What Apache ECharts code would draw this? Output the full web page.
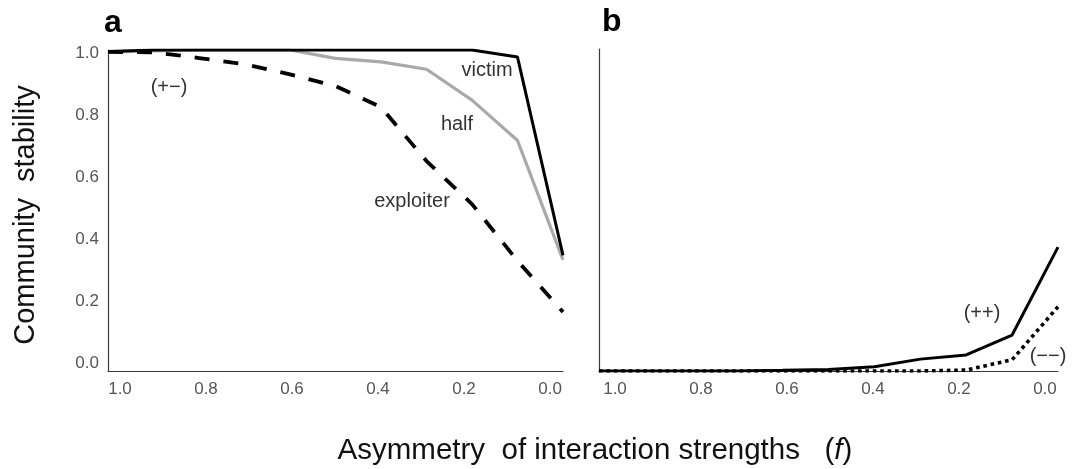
<!DOCTYPE html>
<html>
<head>
<meta charset="utf-8">
<script src="https://cdn.jsdelivr.net/npm/echarts@6/dist/echarts.min.js"></script>
<style>html,body{margin:0;padding:0;background:#fff}#c{width:1077px;height:469px}</style>
</head>
<body>
<div id="c"></div>
<script>
// Asymmetry of interaction strengths (f)
var fValues = [1.0, 0.9, 0.8, 0.7, 0.6, 0.5, 0.4, 0.3, 0.2, 0.1, 0.0];
// Panel a (+-)
var victim    = [0.995, 1.0, 1.0, 1.0, 1.0, 1.0, 1.0, 1.0, 1.0, 0.978, 0.36];
var half      = [0.993, 0.997, 1.0, 1.0, 1.0, 0.974, 0.963, 0.94, 0.844, 0.718, 0.346];
var exploiter = [0.994, 0.993, 0.975, 0.956, 0.924, 0.888, 0.822, 0.654, 0.52, 0.343, 0.184];
// Panel b
var plusPlus   = [0, 0, 0, 0, 0.002, 0.005, 0.013, 0.037, 0.05, 0.112, 0.386];
var minusMinus = [0, 0, 0, 0, 0, 0, 0, 0, 0.003, 0.035, 0.2];
// Tick labels
var xTicks = [1.0, 0.8, 0.6, 0.4, 0.2, 0.0];
var yTicks = [0.0, 0.2, 0.4, 0.6, 0.8, 1.0];

function pairs(ys) { return fValues.map(function (f, i) { return [f, ys[i]]; }); }

var FONT = '"Liberation Sans", Arial, sans-serif';
var axisCol = '#3a3a3a';
var tickCol = '#555';

var chart = echarts.init(document.getElementById('c'), null, {renderer: 'canvas'});

function dataX(grid) {
  return {
    type: 'value', gridIndex: grid, inverse: true, min: 0, max: 1, position: 'bottom',
    axisLine: {show: true, onZero: false, lineStyle: {color: axisCol, width: 1.2}},
    axisTick: {show: false}, axisLabel: {show: false}, splitLine: {show: false}
  };
}
function labelX(grid, mn, mx) {
  return {
    type: 'value', gridIndex: grid, inverse: true, min: mn, max: mx, position: 'bottom',
    axisLine: {show: false, onZero: false}, axisTick: {show: false}, splitLine: {show: false},
    axisLabel: {
      show: true, customValues: xTicks, margin: 10, color: tickCol, fontSize: 17, fontFamily: FONT,
      formatter: function (v) { return Number(v).toFixed(1); }
    }
  };
}

var option = {
  backgroundColor: '#ffffff',
  animation: false,
  grid: [
    {left: 108, top: 50, width: 455, height: 321},
    {left: 599, top: 49, width: 459, height: 322}
  ],
  xAxis: [
    dataX(0),
    labelX(0, -0.0302, 1.0279),
    dataX(1),
    labelX(1, -0.0303, 1.0372)
  ],
  yAxis: [
    {
      type: 'value', gridIndex: 0, min: 0, max: 1, position: 'left',
      axisLine: {show: true, onZero: false, lineStyle: {color: axisCol, width: 1.2}},
      axisTick: {show: false}, axisLabel: {show: false}, splitLine: {show: false}
    },
    {
      type: 'value', gridIndex: 0, min: -0.0258, max: 1.0097, position: 'left',
      axisLine: {show: false, onZero: false}, axisTick: {show: false}, splitLine: {show: false},
      axisLabel: {
        show: true, customValues: yTicks, margin: 9, color: tickCol, fontSize: 17, fontFamily: FONT,
        formatter: function (v) { return Number(v).toFixed(1); }
      }
    },
    {
      type: 'value', gridIndex: 1, min: 0, max: 1.003, position: 'left',
      axisLine: {show: true, onZero: false, lineStyle: {color: axisCol, width: 1.2}},
      axisTick: {show: false}, axisLabel: {show: false}, splitLine: {show: false}
    }
  ],
  series: [
    {
      name: 'half', type: 'line', xAxisIndex: 0, yAxisIndex: 0, data: pairs(half),
      symbol: 'none', lineStyle: {color: '#a9a9a9', width: 3.2}, z: 2
    },
    {
      name: 'exploiter', type: 'line', xAxisIndex: 0, yAxisIndex: 0, data: pairs(exploiter),
      symbol: 'none', lineStyle: {color: '#000', width: 3.8, type: [15, 14]}, z: 3
    },
    {
      name: 'victim', type: 'line', xAxisIndex: 0, yAxisIndex: 0, data: pairs(victim),
      symbol: 'none', lineStyle: {color: '#000', width: 3}, z: 4
    },
    {
      name: '(--)', type: 'line', xAxisIndex: 2, yAxisIndex: 2, data: pairs(minusMinus),
      symbol: 'none', lineStyle: {color: '#000', width: 3.6, type: [3.6, 3.8]}, z: 3
    },
    {
      name: '(++)', type: 'line', xAxisIndex: 2, yAxisIndex: 2, data: pairs(plusPlus),
      symbol: 'none', lineStyle: {color: '#000', width: 3}, z: 4
    }
  ],
  graphic: [
    {type: 'text', left: 104, top: 7, style: {text: 'a', font: 'bold 32px ' + FONT, fill: '#000'}},
    {type: 'text', left: 602, top: 6, style: {text: 'b', font: 'bold 32px ' + FONT, fill: '#000'}},
    {type: 'text', x: 169, y: 87, style: {text: '(+\u2212)', font: '20px ' + FONT, fill: '#333', align: 'center', verticalAlign: 'middle'}},
    {type: 'text', x: 487, y: 70, style: {text: 'victim', font: '20px ' + FONT, fill: '#333', align: 'center', verticalAlign: 'middle'}},
    {type: 'text', x: 457, y: 124, style: {text: 'half', font: '20px ' + FONT, fill: '#333', align: 'center', verticalAlign: 'middle'}},
    {type: 'text', x: 412, y: 201, style: {text: 'exploiter', font: '20px ' + FONT, fill: '#333', align: 'center', verticalAlign: 'middle'}},
    {type: 'text', x: 982, y: 313, style: {text: '(++)', font: '20px ' + FONT, fill: '#333', align: 'center', verticalAlign: 'middle'}},
    {type: 'text', x: 1048, y: 356, style: {text: '(\u2212\u2212)', font: '20px ' + FONT, fill: '#333', align: 'center', verticalAlign: 'middle'}},
    {type: 'text', x: 26, y: 215, rotation: Math.PI / 2,
      style: {text: 'Community  stability', font: '29px ' + FONT, fill: '#111', align: 'center', verticalAlign: 'middle'}},
    {type: 'text', x: 595, y: 451,
      style: {
        text: 'Asymmetry  of interaction strengths   ({i|f})',
        font: '29.5px ' + FONT, fill: '#111', align: 'center', verticalAlign: 'middle',
        rich: {i: {fontStyle: 'italic', fontSize: 29.5, fontFamily: FONT, fill: '#111'}}
      }
    }
  ]
};
chart.setOption(option);
</script>
</body>
</html>
